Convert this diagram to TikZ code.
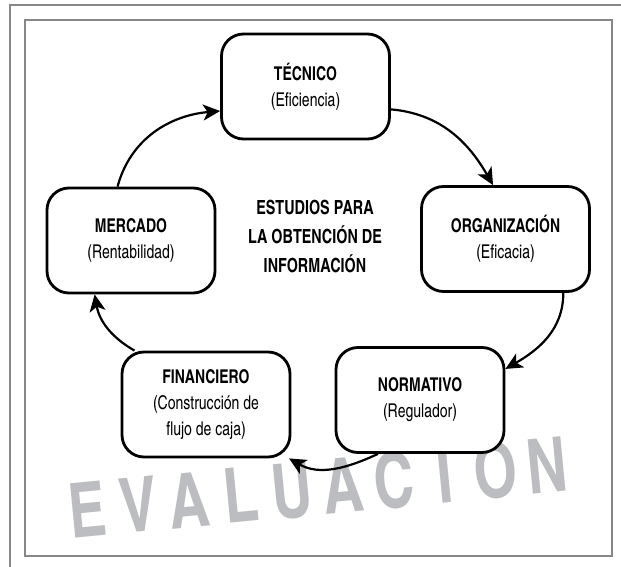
\documentclass[tikz,border=0pt]{standalone}
\usepackage{fontspec}
\setmainfont{texgyreheroscn}[Extension=.otf,UprightFont=*-regular,BoldFont=*-bold,ItalicFont=*-italic,BoldItalicFont=*-bolditalic,FakeStretch=0.9]
\usetikzlibrary{arrows.meta}
\definecolor{markgray}{RGB}{188,189,192}
\definecolor{framegray}{RGB}{135,135,135}

\begin{document}
\begin{tikzpicture}[
  x=1pt, y=-1pt,
  >={Stealth[length=17pt,width=16pt,inset=4.5pt]},
  study/.style={draw, line width=2.8pt, fill=white, rounded corners=22pt,
    minimum width=168pt, minimum height=105pt, inner sep=0pt, align=center,
    font=\fontsize{19}{26}\selectfont},
  centretext/.style={align=center, font=\fontsize{19.5}{29}\selectfont\bfseries},
  flow/.style={line width=2.2pt,->},
  markletter/.style={anchor=base, inner sep=0pt, transform shape, text=markgray,
    font=\fontsize{76}{76}\selectfont\bfseries}
]
\useasboundingbox (0,0) rectangle (621,567);

% ------------------------------------------------------------
% Page frame
% ------------------------------------------------------------
\draw[framegray, line width=1.3pt] (621,5) -- (10,5) -- (10,567);
\draw[framegray, line width=1.5pt] (25,20) rectangle (612,556);

% Watermark along a slightly rising baseline
\begin{scope}[shift={(90,537)}, rotate=5.5]
  \foreach \l [count=\i from 0] in {E,V,A,L,U,A,C,I,O,N}
    \node[markletter] (w\i) at (\i*51.3,0) {\l};
\end{scope}

% ------------------------------------------------------------
% The five studies
% ------------------------------------------------------------
\node[study] (tec) at (305.5,86.5) {\textbf{TÉCNICO}\\(Eficiencia)};
\node[study] (org) at (505.5,239) {\textbf{ORGANIZACIÓN}\\(Eficacia)};
\node[study] (nor) at (420,400) {\textbf{NORMATIVO}\\(Regulador)};
\node[study] (fin) at (206,404.5) {\textbf{FINANCIERO}\\(Construcción de\\flujo de caja)};
\node[study] (mer) at (131,240.5) {\textbf{MERCADO}\\(Rentabilidad)};

\node[centretext] (title) at (315,236) {ESTUDIOS PARA\\LA OBTENCIÓN DE\\INFORMACIÓN};

% Cycle, clockwise
\draw[flow] (mer.104) to[out=75,in=185] (tec.196);
\draw[flow] (tec.345) to[out=-5,in=120] (org.103);
\draw[flow] (org.317) to[out=-90,in=30] (nor.20);
\draw[flow] (nor.232) to[out=205,in=-30] (fin.327);
\draw[flow] (fin.143) to[out=150,in=-80] (mer.236);

\end{tikzpicture}
\end{document}
